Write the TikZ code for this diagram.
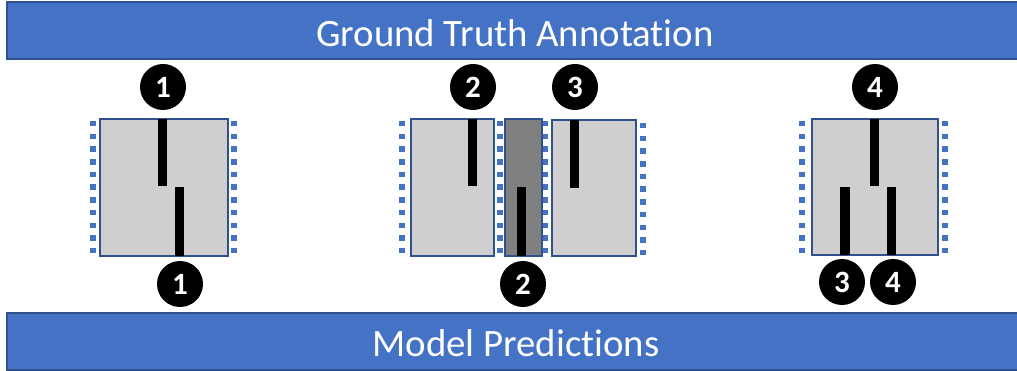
\documentclass[tikz,border=0pt]{standalone}
\usepackage{fontspec}
\setmainfont{Carlito}[Ligatures=NoCommon]
\definecolor{barblue}{HTML}{4472C4}
\definecolor{baredge}{HTML}{2F528F}
\definecolor{boxgray}{HTML}{D0CECE}
\definecolor{darkgray}{HTML}{808080}
\tikzset{
  banner/.style={fill=barblue, draw=baredge, line width=1.2pt},
  bannertext/.style={text=white, font=\fontsize{38.8}{42}\selectfont, inner sep=0pt},
  gtbox/.style={fill=boxgray, draw=baredge, line width=1.2pt},
  darkbox/.style={fill=darkgray, draw=baredge, line width=1.2pt},
  tick/.style={fill=black, draw=none},
  badge/.style={circle, fill=black, draw=none, minimum size=46pt, inner sep=0pt, text=white, font=\fontsize{31}{32}\selectfont\bfseries},
  dots/.style={draw=barblue, line width=5.5pt, dash pattern=on 5.5pt off 7.2pt}
}
\begin{document}
\begin{tikzpicture}[x=1pt,y=-1pt]
\useasboundingbox (0,0) rectangle (1017,371);
% banners
\path[banner] (7,2) rectangle (1025,59);
\node[bannertext] (gt) at (515,33) {Ground Truth Annotation};
\path[banner] (7,313) rectangle (1025,370);
\node[bannertext] (mp) at (516,343) {Model Predictions};

% panel 1
\draw[dots] (93,121) -- (93,256);
\draw[dots] (234,121) -- (234,256);
\path[gtbox] (100,119) rectangle (228,256);
\path[tick] (158,119) rectangle (167,186);
\path[tick] (175,187) rectangle (184,256);
\node[badge] (c1t) at (163,87) {1};
\node[badge] (c1b) at (180,284) {1};

% panel 2
\draw[dots] (402,121) -- (402,256);
\draw[dots] (500,121) -- (500,256);
\draw[dots] (545,121) -- (545,256);
\draw[dots] (643,123) -- (643,258);
\path[gtbox] (411,119) rectangle (494,256);
\path[darkbox] (505,119) rectangle (542,256);
\path[gtbox] (552,120) rectangle (636,256);
\path[tick] (468,119) rectangle (477,186);
\path[tick] (517,187) rectangle (526,256);
\path[tick] (570,120) rectangle (579,188);
\node[badge] (c2t) at (473,87) {2};
\node[badge] (c2b) at (523,284) {2};
\node[badge] (c3t) at (575,87) {3};

% panel 3
\draw[dots] (802,121) -- (802,256);
\draw[dots] (945,121) -- (945,256);
\path[gtbox] (812,119) rectangle (938,255);
\path[tick] (870,119) rectangle (879,186);
\path[tick] (840,187) rectangle (850,255);
\path[tick] (887,187) rectangle (896,255);
\node[badge] (c4t) at (875,87) {4};
\node[badge] (c3b) at (842,282) {3};
\node[badge] (c4b) at (893,282) {4};
\end{tikzpicture}
\end{document}
